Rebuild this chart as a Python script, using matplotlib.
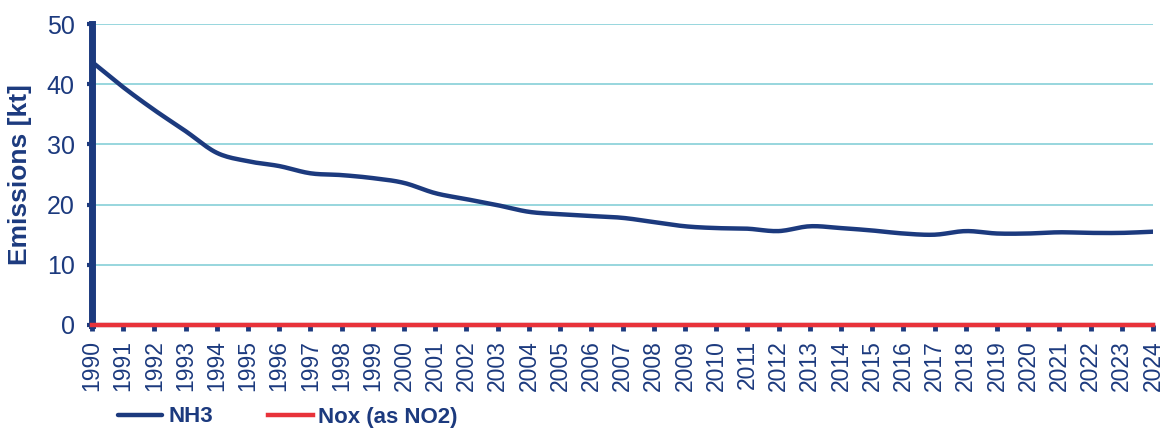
import numpy as np
import matplotlib
matplotlib.use("Agg")
import matplotlib.pyplot as plt

# jaren en emissies (kt)
jaren = list(range(1990, 2025))
nh3 = [43.7, 39.5, 35.7, 32.2, 28.6, 27.2, 26.4, 25.2, 24.9, 24.4,
       23.6, 21.9, 20.9, 19.9, 18.8, 18.4, 18.1, 17.8, 17.1, 16.4,
       16.1, 16.0, 15.6, 16.4, 16.1, 15.7, 15.2, 15.0, 15.6, 15.2,
       15.2, 15.4, 15.3, 15.3, 15.5]
nox = [0.05] * len(jaren)

DONKERBLAUW = "#1c3a7e"
ROOD = "#e8323a"
RASTER = "#86d0d8"

plt.rcParams["font.family"] = ["Liberation Sans", "DejaVu Sans"]


def glad(x, y, n=12):
    # Catmull-Rom curve door de punten, zoals de 'vloeiende lijn' van Excel
    x = np.asarray(x, float)
    y = np.asarray(y, float)
    px = np.concatenate([[2 * x[0] - x[1]], x, [2 * x[-1] - x[-2]]])
    py = np.concatenate([[2 * y[0] - y[1]], y, [2 * y[-1] - y[-2]]])
    xs, ys = [], []
    t = np.linspace(0, 1, n, endpoint=False)
    for i in range(1, len(px) - 2):
        for p, out in ((px, xs), (py, ys)):
            p0, p1, p2, p3 = p[i - 1], p[i], p[i + 1], p[i + 2]
            out.extend(0.5 * (2 * p1 + (-p0 + p2) * t
                              + (2 * p0 - 5 * p1 + 4 * p2 - p3) * t ** 2
                              + (-p0 + 3 * p1 - 3 * p2 + p3) * t ** 3))
    xs.append(x[-1])
    ys.append(y[-1])
    return np.array(xs), np.array(ys)


fig = plt.figure(figsize=(11.64, 4.30), dpi=100)
ax = fig.add_axes([92 / 1164, 1 - 325 / 430, 1061 / 1164, 301 / 430])

gx, gy = glad(jaren, nh3)
ax.plot(gx, gy, color=DONKERBLAUW, lw=3.2, solid_capstyle="round",
        label="NH3", zorder=3)
ax.plot(jaren, nox, color=ROOD, lw=3.2, label="Nox (as NO2)",
        zorder=4, clip_on=False)

ax.set_xlim(1990, 2024)
ax.set_ylim(0, 50)
ax.set_yticks(range(0, 51, 10))
ax.set_xticks(jaren)
ax.set_xticklabels([str(j) for j in jaren], rotation=90)

ax.grid(axis="y", color=RASTER, lw=1.2)
ax.set_axisbelow(True)

for kant in ["top", "right"]:
    ax.spines[kant].set_visible(False)
ax.spines["left"].set_color(DONKERBLAUW)
ax.spines["left"].set_linewidth(5)
ax.spines["bottom"].set_color(DONKERBLAUW)
ax.spines["bottom"].set_linewidth(3)

ax.tick_params(axis="y", colors=DONKERBLAUW, labelsize=18, length=3.5,
               width=3, pad=9)
ax.tick_params(axis="x", colors=DONKERBLAUW, labelsize=16.5, length=4,
               width=3.5, pad=7)

ax.set_ylabel("Emissions [kt]", color=DONKERBLAUW, fontsize=19,
              fontweight="bold")
ax.yaxis.set_label_coords(-0.0565, 0.5)

leg = fig.legend(loc="center left", bbox_to_anchor=(118 / 1164, 1 - 417 / 430),
                 ncol=2, frameon=False, borderpad=0, borderaxespad=0,
                 handlelength=2.0, handletextpad=0.25, columnspacing=2.5,
                 prop={"size": 16, "weight": "bold"})
for tekst in leg.get_texts():
    tekst.set_color(DONKERBLAUW)

fig.savefig("out.png", dpi=100)
